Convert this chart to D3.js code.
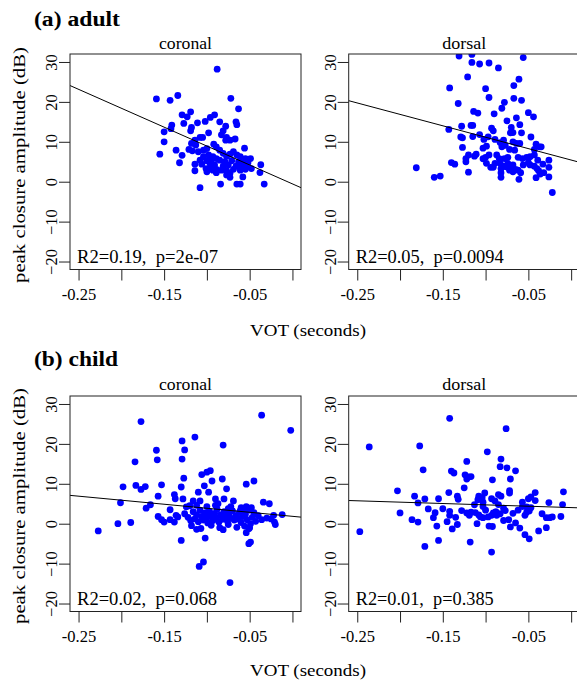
<!DOCTYPE html>
<html>
<head>
<meta charset="utf-8">
<script src="https://cdn.jsdelivr.net/npm/d3@7"></script>
<style>
	body { margin: 0; background: #fff; }
	svg { display: block; font-family: "Liberation Serif", "Times New Roman", serif; }
</style>
</head>
<body>
<div id="chart"></div>
<script>
(function() {
	// data
	const groups = ['(a) adult', '(b) child'];
	const places = ['coronal', 'dorsal'];
	const xTicks = [-0.25, -0.2, -0.15, -0.1, -0.05, 0];
	const xTickLabels = ['-0.25', '', '-0.15', '', '-0.05', ''];
	const yTicks = [-20, -10, 0, 10, 20, 30];
	const statLabels = ['R2=0.19,  p=2e-07', 'R2=0.05,  p=0.0094', 'R2=0.02,  p=0.068', 'R2=0.01,  p=0.385'];
	const fitIntercepts = [-0.55, 5.43, 1.85, 4.04];
	const fitSlopes = [-94.8, -57.2, -20.2, -6.8];

	const adultCoronal = [
		[-0.088,28.2],[-0.134,21.6],[-0.159,20.75],[-0.143,20.4],[-0.072,20.9],[-0.063,18.25],[-0.119,17.5],
		[-0.129,16.75],[-0.123,16.25],[-0.091,16.75],[-0.096,16.1],[-0.102,15.1],[-0.111,14.75],[-0.085,15],
		[-0.066,15],[-0.065,14.3],[-0.127,14.6],[-0.141,14.2],[-0.078,13.9],[-0.118,13.6],[-0.142,13.3],
		[-0.081,12.75],[-0.119,12.75],[-0.150,12.5],[-0.098,12.25],[-0.083,11.75],[-0.108,11.1],[-0.105,11.1],
		[-0.077,11.1],[-0.114,10.4],[-0.078,10.4],[-0.073,10.4],[-0.067,10.7],[-0.150,10],[-0.118,9.6],
		[-0.092,9.4],[-0.113,9.2],[-0.089,8.75],[-0.100,8.3],[-0.056,8.4],[-0.136,7.9],[-0.121,8.1],
		[-0.117,7.75],[-0.110,7.5],[-0.104,7.9],[-0.085,7.9],[-0.069,7.5],[-0.155,6.9],[-0.129,6.6],
		[-0.081,7.1],[-0.073,6.9],[-0.061,6.25],[-0.065,6.7],[-0.077,6.4],[-0.055,5.8],[-0.049,5.8],
		[-0.104,6.25],[-0.098,6.7],[-0.093,6.25],[-0.089,5.8],[-0.108,5.4],[-0.100,5.25],[-0.095,5.4],
		[-0.085,5.4],[-0.079,5],[-0.071,5.25],[-0.063,5],[-0.058,4.75],[-0.052,4.75],[-0.132,4.75],
		[-0.114,4.4],[-0.106,4.4],[-0.096,4.4],[-0.091,4.2],[-0.081,3.9],[-0.075,4.2],[-0.066,3.9],
		[-0.059,3.75],[-0.054,3.6],[-0.037,4.25],[-0.101,3.3],[-0.095,3.3],[-0.089,3.1],[-0.083,2.9],
		[-0.077,2.75],[-0.069,3.1],[-0.061,2.9],[-0.055,3.1],[-0.114,2.75],[-0.100,2.5],[-0.089,2.25],
		[-0.077,1.7],[-0.073,2.1],[-0.058,1.2],[-0.038,2.3],[-0.084,-0.6],[-0.065,-0.6],[-0.061,-0.6],
		[-0.108,-1.5],[-0.033,-0.6],[-0.073,1.1],[-0.093,2.9],[-0.048,3.3]
	];
	const adultDorsal = [
		[-0.131,31.5],[-0.116,31.9],[-0.056,31.1],[-0.116,29.9],[-0.107,29.5],[-0.096,29.75],[-0.085,28.5],
		[-0.121,26.25],[-0.061,25.7],[-0.142,23.5],[-0.100,23.3],[-0.067,24.1],[-0.096,21.1],[-0.067,20.9],
		[-0.058,20.4],[-0.078,19.9],[-0.132,19.6],[-0.081,18.4],[-0.114,17.6],[-0.109,17.2],[-0.090,17],
		[-0.050,17.3],[-0.044,16.25],[-0.075,15.25],[-0.064,16],[-0.060,14.3],[-0.117,14.1],[-0.115,14.1],
		[-0.128,13.9],[-0.093,13.4],[-0.091,12.75],[-0.070,13.6],[-0.143,13.1],[-0.068,12.3],[-0.071,12.25],
		[-0.058,12.25],[-0.107,11.8],[-0.127,11],[-0.129,11.2],[-0.115,11.3],[-0.097,11.25],[-0.102,10.6],
		[-0.089,10.6],[-0.079,10.4],[-0.083,9.8],[-0.068,10],[-0.064,9.6],[-0.060,9.6],[-0.047,11.2],
		[-0.077,9.1],[-0.081,8.75],[-0.103,8.4],[-0.099,8.9],[-0.127,8.6],[-0.041,9.4],[-0.035,8.75],
		[-0.037,8.75],[-0.043,8.1],[-0.072,8.1],[-0.066,7.9],[-0.111,6.9],[-0.113,6.4],[-0.120,6.7],
		[-0.096,6.7],[-0.100,6.1],[-0.103,5.75],[-0.087,6.7],[-0.084,5.8],[-0.078,5.8],[-0.074,6.1],
		[-0.062,6.1],[-0.057,5.8],[-0.052,6.1],[-0.048,6.25],[-0.043,6.7],[-0.123,5.8],[-0.123,5],
		[-0.140,4.8],[-0.136,4.4],[-0.094,3.6],[-0.091,3.6],[-0.083,4.6],[-0.079,3.9],[-0.082,3.3],
		[-0.074,4.6],[-0.076,3.75],[-0.071,3.3],[-0.068,4.2],[-0.065,3.1],[-0.062,2.9],[-0.056,4.2],
		[-0.050,4.75],[-0.048,4.2],[-0.043,3.9],[-0.040,3.3],[-0.038,2.75],[-0.026,5.4],[-0.026,3.6],
		[-0.032,2.25],[-0.036,1.9],[-0.181,3.5],[-0.120,2.4],[-0.082,2.25],[-0.082,1.1],[-0.061,0.6],
		[-0.041,1],[-0.026,1.2],[-0.160,1.1],[-0.153,1.4],[-0.022,-2.7],[-0.068,2.5],[-0.072,2.9],
		[-0.039,5.4],[-0.033,4.4],[-0.089,4.6],[-0.059,2.25],[-0.099,4.6]
	];
	const childCoronal = [
		[-0.036,27.2],[-0.177,25.6],[-0.002,23.4],[-0.114,21.7],[-0.129,20.75],[-0.081,19.7],[-0.159,18.4],
		[-0.126,18.5],[-0.158,16],[-0.129,16.2],[-0.184,15.5],[-0.096,13.3],[-0.100,12.9],[-0.106,12.3],
		[-0.127,11.4],[-0.082,11.2],[-0.094,10.7],[-0.045,10.7],[-0.054,9.9],[-0.153,9.75],[-0.198,9.25],
		[-0.183,9.6],[-0.172,9.3],[-0.177,8.6],[-0.130,9.2],[-0.103,9.5],[-0.077,8.75],[-0.110,7.9],
		[-0.098,7.9],[-0.157,6.9],[-0.138,7.3],[-0.137,6.25],[-0.128,6.2],[-0.116,5.7],[-0.201,5.25],
		[-0.166,4.75],[-0.171,3.9],[-0.143,3.5],[-0.124,4.2],[-0.108,5.7],[-0.112,4.6],[-0.090,6.2],
		[-0.087,5],[-0.080,6.2],[-0.069,5.7],[-0.072,4.3],[-0.054,4.3],[-0.048,4],[-0.034,5.4],[-0.027,5],
		[-0.061,3.3],[-0.058,3.5],[-0.022,2.1],[-0.012,2.3],[-0.157,1.8],[-0.153,1],[-0.150,0.4],[-0.143,1],
		[-0.138,0.4],[-0.134,1.7],[-0.136,2.1],[-0.227,-1.8],[-0.204,0],[-0.189,0.3],[-0.130,-4.2],
		[-0.102,-3.6],[-0.054,-2.25],[-0.051,-1.25],[-0.051,-5],[-0.049,-4.6],[-0.104,-9.6],[-0.109,-10.7],
		[-0.073,-14.75],[-0.112,-1.4],[-0.081,-1.5],[-0.021,0.4],[-0.020,-0.2],
		[-0.126,2.5],[-0.122,1.6],[-0.119,0.8],[-0.116,3.0],[-0.114,1.2],[-0.112,2.2],[-0.110,0.5],
		[-0.108,3.4],[-0.106,1.8],[-0.104,0.9],[-0.102,2.7],[-0.100,1.4],[-0.099,0.2],[-0.097,3.1],
		[-0.095,2.0],[-0.093,0.8],[-0.091,2.6],[-0.089,1.5],[-0.088,3.6],[-0.086,0.4],[-0.084,2.2],
		[-0.082,1.1],[-0.080,3.0],[-0.078,1.8],[-0.076,0.6],[-0.074,2.5],[-0.072,1.4],[-0.070,3.2],
		[-0.068,0.9],[-0.066,2.0],[-0.064,1.2],[-0.062,2.8],[-0.060,0.3],[-0.058,1.8],[-0.056,-0.6],
		[-0.055,2.4],[-0.053,1.0],[-0.051,3.4],[-0.049,0.0],[-0.047,1.6],[-0.045,2.8],[-0.043,0.6],
		[-0.040,2.0],[-0.036,1.0],[-0.030,1.4],[-0.025,1.2],[-0.118,-0.5],[-0.107,-1.2],[-0.095,-0.4],
		[-0.085,-1.0],[-0.075,-0.2],[-0.065,-0.9],[-0.050,-1.0],[-0.120,4.5],[-0.100,4.3],[-0.090,4.6],
		[-0.075,3.8],[-0.060,4.0]
	];
	const childDorsal = [
		[-0.142,26.4],[-0.076,23.8],[-0.236,19.25],[-0.177,19.5],[-0.098,18],[-0.122,15.6],[-0.082,16.2],
		[-0.173,13.5],[-0.083,14.3],[-0.075,14],[-0.140,13.2],[-0.137,12.7],[-0.065,13.25],[-0.124,12.25],
		[-0.120,11.7],[-0.117,11.8],[-0.122,11.2],[-0.092,11],[-0.071,11.2],[-0.125,9],[-0.203,8.25],
		[-0.143,7.8],[-0.072,8.3],[-0.072,7.7],[-0.042,7.8],[-0.009,8],[-0.101,7.7],[-0.108,6.9],
		[-0.183,6.9],[-0.171,6.2],[-0.155,6.25],[-0.133,6.9],[-0.132,6.1],[-0.104,6.5],[-0.109,6],
		[-0.103,5.4],[-0.093,6.25],[-0.089,5.7],[-0.085,7.3],[-0.082,6.9],[-0.179,5.2],[-0.167,3.7],
		[-0.200,2.7],[-0.057,5.4],[-0.050,6.25],[-0.047,6.7],[-0.026,5.3],[-0.010,4.8],[-0.113,4.75],
		[-0.103,4.3],[-0.085,4.8],[-0.079,3.9],[-0.077,3.3],[-0.057,4.3],[-0.052,4.2],[-0.047,4],
		[-0.052,2.9],[-0.049,3.2],[-0.054,2.1],[-0.150,3.75],[-0.142,3.1],[-0.142,2.1],[-0.159,2.75],
		[-0.161,1.5],[-0.186,1],[-0.179,0.4],[-0.128,3.3],[-0.122,2.7],[-0.119,2.1],[-0.117,2.9],
		[-0.110,0],[-0.106,1.7],[-0.103,1.5],[-0.097,1.7],[-0.093,2.1],[-0.091,2.7],[-0.087,2.1],
		[-0.083,2.5],[-0.096,-0.6],[-0.092,-0.7],[-0.157,-0.6],[-0.133,-0.2],[-0.139,-1.3],[-0.079,0.8],
		[-0.073,1],[-0.071,-0.8],[-0.065,0.2],[-0.060,-1.1],[-0.054,-2.75],[-0.049,-3.8],[-0.038,-1.8],
		[-0.029,-1],[-0.034,2.5],[-0.029,1.5],[-0.025,1.5],[-0.022,1.7],[-0.012,1.8],[-0.247,-2],
		[-0.155,-4.2],[-0.171,-5.7],[-0.118,-4.6],[-0.093,-7.1],[-0.042,5.8],[-0.112,2.8],[-0.100,3.4],
		[-0.088,3.0],[-0.068,2.6],[-0.062,3.4],[-0.135,1.6],[-0.145,0.5],[-0.108,2.2]
	];
	const panelPoints = [adultCoronal, adultDorsal, childCoronal, childDorsal];

	// layout
	const width = 577, height = 681;
	const panelW = 231, panelH = 215.5;
	const panelLeft = [70, 348.7];
	const rowTop = 54, rowStep = 342;
	const titleWidths = [86, 84];
	const placeWidths = [53, 44];
	const statWidths = [141, 148, 140, 138];

	let svg = d3.select('#chart')
		.append('svg')
		.attr('width', width)
		.attr('height', height);

	let x = d3.scaleLinear().domain([-0.26, 0.01]).range([0, panelW]);
	let y = d3.scaleLinear().domain([-22, 32]).range([panelH, 0]);

	groups.forEach((g, row) => {
		let top = row * rowStep;
		svg.append('text')
			.attr('x', 34)
			.attr('y', 25.5 + top - row * 1.5)
			.attr('textLength', titleWidths[row])
			.attr('lengthAdjust', 'spacingAndGlyphs')
			.style('font-size', '20px')
			.style('font-weight', 'bold')
			.text(g);
		svg.append('text')
			.attr('transform', `translate(24.5,${165 + top - row * 1})rotate(-90)`)
			.attr('text-anchor', 'middle')
			.attr('textLength', 236)
			.attr('lengthAdjust', 'spacingAndGlyphs')
			.style('font-size', '16.5px')
			.text('peak closure amplitude (dB)');
		svg.append('text')
			.attr('x', 308)
			.attr('y', 335.5 + top - row * 1.5)
			.attr('text-anchor', 'middle')
			.attr('textLength', 116)
			.attr('lengthAdjust', 'spacingAndGlyphs')
			.style('font-size', '17px')
			.text('VOT (seconds)');
	});

	panelPoints.forEach((pts, i) => {
		let row = Math.floor(i / 2), col = i % 2;
		let g = svg.append('g')
			.attr('transform', `translate(${panelLeft[col]},${rowTop + row * rowStep})`);

		g.append('clipPath')
			.attr('id', 'clip' + i)
			.append('rect')
			.attr('width', panelW)
			.attr('height', panelH);

		let inner = g.append('g').attr('clip-path', `url(#clip${i})`);

		inner.selectAll('.dot')
			.data(pts)
			.enter()
			.append('circle')
			.attr('class', 'dot')
			.attr('cx', d => x(d[0]))
			.attr('cy', d => y(d[1]))
			.attr('r', 3.4)
			.style('fill', '#0000ff');

		let a = fitIntercepts[i], b = fitSlopes[i];
		inner.append('line')
			.attr('x1', x(-0.26)).attr('y1', y(a + b * -0.26))
			.attr('x2', x(0.01)).attr('y2', y(a + b * 0.01))
			.style('stroke', '#000')
			.style('stroke-width', 1);

		g.append('rect')
			.attr('width', panelW)
			.attr('height', panelH)
			.style('fill', 'none')
			.style('stroke', '#222')
			.style('stroke-width', 1);

		let xAxis = g.append('g')
			.attr('transform', `translate(0,${panelH})`)
			.call(d3.axisBottom(x)
				.tickValues(xTicks)
				.tickSize(11)
				.tickPadding(8)
				.tickFormat((d, j) => xTickLabels[j]));
		xAxis.select('.domain').remove();

		let yAxis = g.append('g')
			.call(d3.axisLeft(y)
				.tickValues(yTicks)
				.tickSize(11)
				.tickFormat(d3.format('d')));
		yAxis.select('.domain').remove();
		yAxis.selectAll('text')
			.attr('transform', 'rotate(-90)')
			.attr('x', 0)
			.attr('y', -13)
			.attr('dy', 0)
			.style('text-anchor', 'middle');

		[xAxis, yAxis].forEach(ax => {
			ax.selectAll('line').style('stroke', '#222');
			ax.selectAll('text')
				.style('font-family', '"Liberation Serif", serif')
				.style('font-size', '16.5px')
				.style('fill', '#000');
		});

		g.append('text')
			.attr('x', panelW / 2)
			.attr('y', -5.5 - row * 0.5)
			.attr('text-anchor', 'middle')
			.attr('textLength', placeWidths[col])
			.attr('lengthAdjust', 'spacingAndGlyphs')
			.style('font-size', '16.5px')
			.text(places[col]);

		g.append('text')
			.attr('x', 7)
			.attr('y', 209)
			.attr('textLength', statWidths[i])
			.attr('lengthAdjust', 'spacingAndGlyphs')
			.style('font-size', '18px')
			.style('white-space', 'pre')
			.text(statLabels[i]);
	});
})();
</script>
</body>
</html>
